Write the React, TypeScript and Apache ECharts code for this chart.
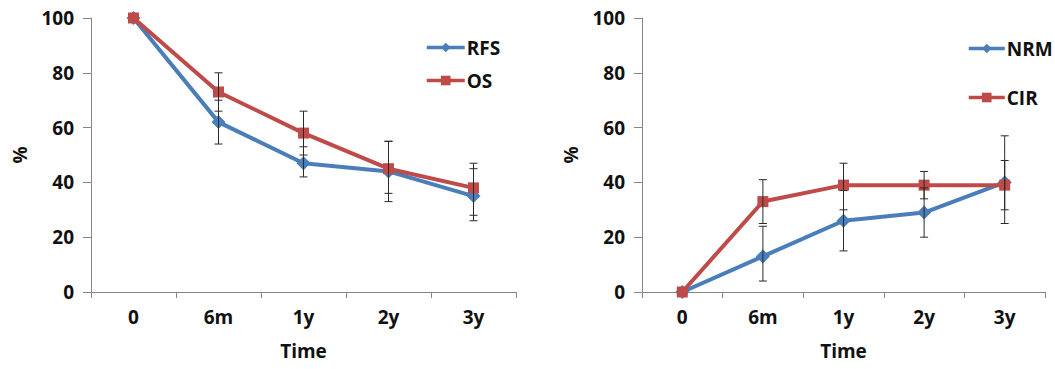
import React, { useEffect, useRef } from "react";
import * as echarts from "echarts";

const categories = ["0", "6m", "1y", "2y", "3y"];

const rfs = [100, 62, 47, 44, 35];
const rfsLow = [null, 54, 42, 33, 26];
const rfsHigh = [null, 70, 53, 55, 45];

const os = [100, 73, 58, 45, 38];
const osLow = [null, 66, 50, 36, 28];
const osHigh = [null, 80, 66, 55, 47];

const nrm = [0, 13, 26, 29, 40];
const nrmLow = [null, 4, 15, 20, 25];
const nrmHigh = [null, 24, 37, 38, 57];

const cir = [0, 33, 39, 39, 39];
const cirLow = [null, 25, 30, 34, 30];
const cirHigh = [null, 41, 47, 44, 48];

const yTicks = [0, 20, 40, 60, 80, 100];

const BLUE = "#4A7EBB";
const RED = "#BE4B48";
const AXIS = "#868686";
const FONT = "'Open Sans', 'Liberation Sans', sans-serif";

function errData(low: (number | null)[], high: (number | null)[]) {
  const out: number[][] = [];
  low.forEach((l, i) => {
    const h = high[i];
    if (l != null && h != null) out.push([i, l, h]);
  });
  return out;
}

function errSeries(low: (number | null)[], high: (number | null)[], idx: number) {
  return {
    type: "custom",
    xAxisIndex: idx,
    yAxisIndex: idx,
    z: 5,
    silent: true,
    encode: { x: 0, y: [1, 2] },
    data: errData(low, high),
    renderItem: (params: any, api: any) => {
      const xi = api.value(0);
      const lo = api.coord([xi, api.value(1)]);
      const hi = api.coord([xi, api.value(2)]);
      const hw = 4;
      const style = { stroke: "#2a2a2a", lineWidth: 1 };
      return {
        type: "group",
        children: [
          { type: "line", shape: { x1: lo[0], y1: lo[1], x2: hi[0], y2: hi[1] }, style },
          { type: "line", shape: { x1: lo[0] - hw, y1: lo[1], x2: lo[0] + hw, y2: lo[1] }, style },
          { type: "line", shape: { x1: hi[0] - hw, y1: hi[1], x2: hi[0] + hw, y2: hi[1] }, style },
        ],
      };
    },
  };
}

function lineSeries(name: string, data: number[], color: string, symbol: string, size: number, idx: number) {
  return {
    name,
    type: "line",
    xAxisIndex: idx,
    yAxisIndex: idx,
    data,
    symbol,
    symbolSize: size,
    showAllSymbol: true,
    z: 3,
    lineStyle: { color, width: 4 },
    itemStyle: { color },
  };
}

const labelStyle = { color: "#111", fontFamily: FONT, fontWeight: "bold" as const, fontSize: 19 };

function xAxis(idx: number) {
  return {
    type: "category",
    gridIndex: idx,
    data: categories,
    boundaryGap: true,
    axisLine: { lineStyle: { color: AXIS, width: 1 } },
    axisTick: { show: true, length: 6, lineStyle: { color: AXIS } },
    axisLabel: { ...labelStyle, margin: 15 },
    name: "Time",
    nameLocation: "middle",
    nameGap: 49,
    nameTextStyle: { ...labelStyle },
  };
}

function yAxis(idx: number) {
  return {
    type: "value",
    gridIndex: idx,
    min: yTicks[0],
    max: yTicks[yTicks.length - 1],
    interval: 20,
    splitLine: { show: false },
    axisLine: { show: true, lineStyle: { color: AXIS, width: 1 } },
    axisTick: { show: true, length: 8, lineStyle: { color: AXIS } },
    axisLabel: { ...labelStyle, margin: 17 },
    name: "%",
    nameLocation: "middle",
    nameRotate: 90,
    nameGap: 62,
    nameTextStyle: { ...labelStyle },
  };
}

export default function App() {
  const ref = useRef<HTMLDivElement>(null);
  useEffect(() => {
    if (!ref.current) return;
    const chart = echarts.init(ref.current, undefined, { renderer: "svg" });
    chart.setOption({
      animation: false,
      backgroundColor: "#ffffff",
      grid: [
        { left: 91, right: 539, top: 18, bottom: 77 },
        { left: 642, right: 10, top: 18, bottom: 77 },
      ],
      xAxis: [xAxis(0), xAxis(1)],
      yAxis: [yAxis(0), yAxis(1)],
      legend: [
        {
          data: ["RFS", "OS"],
          orient: "vertical",
          left: 420,
          top: 33,
          itemWidth: 38,
          itemHeight: 12,
          itemGap: 14,
          lineStyle: { width: 3.5 },
          textStyle: { ...labelStyle, padding: [0, 0, 0, -3] },
        },
        {
          data: ["NRM", "CIR"],
          orient: "vertical",
          left: 962,
          top: 34,
          itemWidth: 36,
          itemHeight: 12,
          itemGap: 30,
          lineStyle: { width: 3.5 },
          textStyle: { ...labelStyle, padding: [0, 0, 0, -3] },
        },
      ],
      series: [
        lineSeries("RFS", rfs, BLUE, "diamond", 14, 0),
        lineSeries("OS", os, RED, "rect", 11, 0),
        errSeries(rfsLow, rfsHigh, 0),
        errSeries(osLow, osHigh, 0),
        lineSeries("NRM", nrm, BLUE, "diamond", 14, 1),
        lineSeries("CIR", cir, RED, "rect", 11, 1),
        errSeries(nrmLow, nrmHigh, 1),
        errSeries(cirLow, cirHigh, 1),
      ],
    });
    return () => chart.dispose();
  }, []);
  return (
    <div
      ref={ref}
      style={{ position: "absolute", left: 0, top: 0, width: 1055, height: 369, background: "#fff" }}
    />
  );
}
